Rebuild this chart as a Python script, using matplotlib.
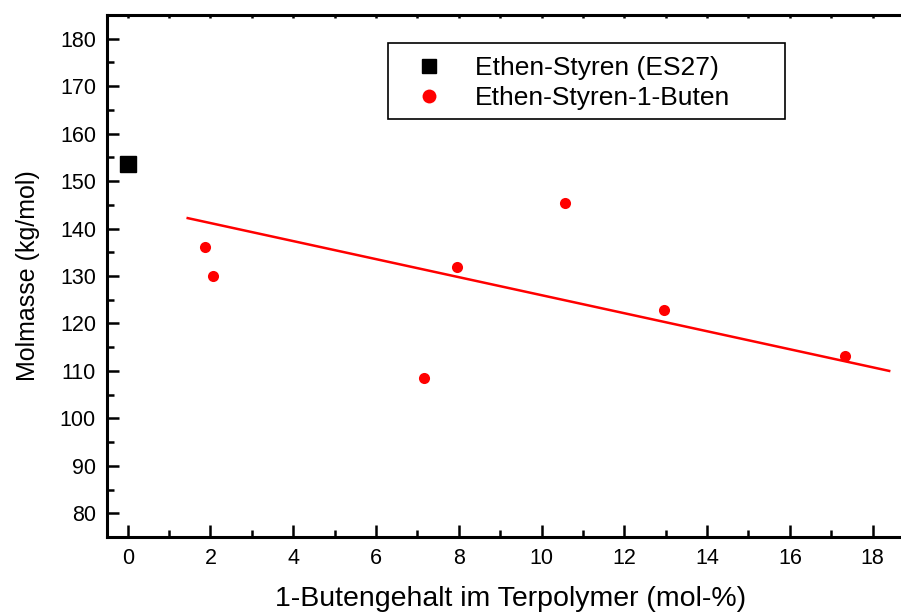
import numpy as np
import matplotlib
matplotlib.use("Agg")
import matplotlib.pyplot as plt
from matplotlib.ticker import MultipleLocator
from matplotlib.lines import Line2D
from matplotlib.patches import Rectangle

plt.rcParams['font.family'] = ['Liberation Sans', 'DejaVu Sans']

# Daten
es_x = [0.0]
es_y = [153.6]

esb_x = [1.86, 2.05, 7.15, 7.95, 10.56, 12.95, 17.34]
esb_y = [136.2, 130.1, 108.5, 132.0, 145.4, 122.8, 113.1]

fit_x = [1.45, 18.4]
fit_y = [142.2, 110.0]

W, H = 901, 613
fig = plt.figure(figsize=(W / 100, H / 100), dpi=100)
ax = fig.add_axes([107 / W, (H - 537) / H, 807 / W, (537 - 15) / H])

ax.plot(es_x, es_y, 's', color='black', markersize=11)
ax.plot(esb_x, esb_y, 'o', color='red', markersize=8, markeredgewidth=0)
ax.plot(fit_x, fit_y, '-', color='red', linewidth=1.8)

ax.set_xlim(-0.5, 19)
ax.set_ylim(75, 185)

ax.xaxis.set_major_locator(MultipleLocator(2))
ax.xaxis.set_minor_locator(MultipleLocator(1))
ax.yaxis.set_minor_locator(MultipleLocator(5))
ax.set_yticks(np.arange(80, 181, 10))

for s in ax.spines.values():
    s.set_linewidth(2.2)
ax.spines['right'].set_visible(False)

ax.tick_params(axis='both', which='major', direction='in', length=8.5, width=1.8,
               labelsize=15.5, pad=8)
ax.tick_params(axis='both', which='minor', direction='in', length=5, width=1.8)
ax.tick_params(axis='x', which='both', top=True, labeltop=False)
for t in ax.xaxis.get_ticklines(minor=False)[1::2] + ax.xaxis.get_ticklines(minor=True)[1::2]:
    t.set_markersize(2)

ax.set_xlabel('1-Butengehalt im Terpolymer (mol-%)', fontsize=20.5, labelpad=12)
ax.set_ylabel('Molmasse (kg/mol)', fontsize=18, labelpad=14)

# Legendenrahmen (breiter als der Text, wie im Original)
fig.patches.append(Rectangle((388 / W, 1 - 119 / H), (785 - 388) / W, (119 - 43) / H,
                             transform=fig.transFigure, fill=False,
                             edgecolor='black', linewidth=1.2))

handles = [
    Line2D([], [], marker='s', color='black', linestyle='none', markersize=9.5),
    Line2D([], [], marker='o', color='red', linestyle='none', markersize=10, markeredgewidth=0),
]
labels = ['Ethen-Styren (ES27)', 'Ethen-Styren-1-Buten']
leg = ax.legend(handles, labels, loc='upper left',
                bbox_to_anchor=((388 - 107) / 807, (537 - 47) / 522),
                fontsize=19, frameon=False,
                borderpad=0.35, handletextpad=0.55, labelspacing=0.22, borderaxespad=0,
                handlelength=2.4)

fig.savefig('out.png', dpi=100)
